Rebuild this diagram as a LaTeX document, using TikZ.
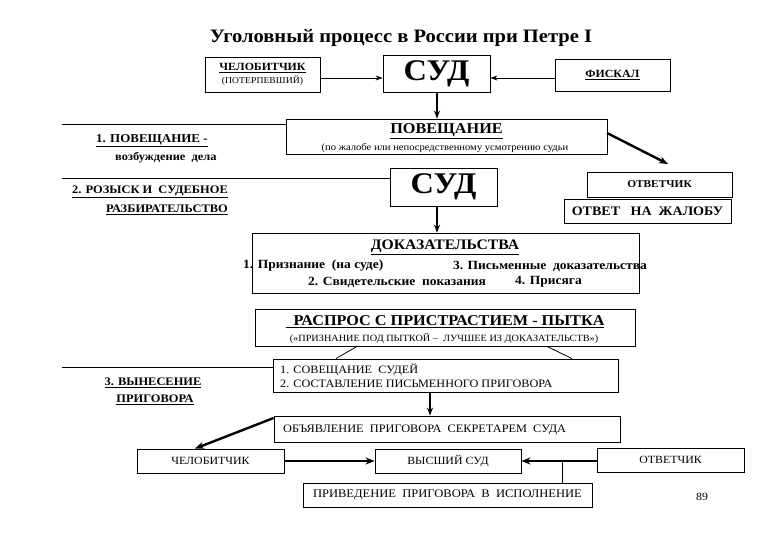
\documentclass[tikz,border=0pt]{standalone}
\usepackage{fontspec}
\setmainfont[FakeStretch=1.08]{Liberation Serif}
\usetikzlibrary{arrows.meta}
\newcommand\fs[1]{\fontsize{#1}{#1}\selectfont}
\begin{document}
\begin{tikzpicture}[x=1pt,y=-1pt,
  box/.style={draw, line width=0.8pt, inner sep=0pt, align=center},
  lbl/.style={inner sep=0pt, align=center},
  thinarr/.style={-{Stealth[length=7pt,width=5pt]}, line width=0.8pt},
  midarr/.style={-{Stealth[length=8pt,width=6pt]}, line width=1.6pt},
  thickarr/.style={-{Stealth[length=9pt,width=7pt]}, line width=2.4pt},
  rule/.style={line width=0.8pt}
]
\useasboundingbox (0,0) rectangle (780,540);
\fill[white] (0,0) rectangle (780,540);

% title
\node[lbl] (title) at (401,38) {\fs{19}\bfseries Уголовный процесс в России при Петре I};

% top row
\node[box, minimum width=115pt, minimum height=35pt] (chel1) at (262.5,74.5)
  {\fs{11}\bfseries\underline{ЧЕЛОБИТЧИК}\\[1pt]\fs{9}\mdseries(ПОТЕРПЕВШИЙ)};
\node[box, minimum width=107pt, minimum height=37pt] (sud1) at (436.5,73.5)
  {\fs{30}\bfseries СУД};
\node[box, minimum width=115pt, minimum height=32pt] (fisk) at (612.5,75)
  {\fs{11}\bfseries\underline{ФИСКАЛ}};
\draw[thinarr] (chel1.east |- 0,78) -- (sud1.west |- 0,78);
\draw[thinarr] (fisk.west |- 0,78) -- (sud1.east |- 0,78);

% ПОВЕЩАНИЕ
\node[box, minimum width=321pt, minimum height=35pt] (pov) at (446.5,136.5) {};
\node[lbl] (povt) at (446.5,131) {\fs{15}\bfseries\underline{ПОВЕЩАНИЕ}};
\node[lbl] (povs) at (445,148) {\fs{9.8}(по жалобе или непосредственному усмотрению судьи};
\draw[midarr] (sud1.south -| 437,0) -- (pov.north -| 437,0);

\coordinate (l1) at (62,124);
\draw[rule] (l1) -- (pov.west |- l1);
\node[lbl, anchor=west] (st1a) at (96,141) {\fs{12}\bfseries\underline{1. ПОВЕЩАНИЕ -}};
\node[lbl, anchor=west] (st1b) at (115,158) {\fs{11.5}\bfseries возбуждение\ \ дела};

% СУД 2
\node[box, minimum width=107pt, minimum height=38pt] (sud2) at (443.5,187) {\fs{30}\bfseries СУД};
\coordinate (l2) at (62,178);
\draw[rule] (l2) -- (sud2.west |- l2);
\node[lbl, anchor=east] (st2a) at (228,192) {\fs{11.5}\bfseries\underline{2. РОЗЫСК И\ \ СУДЕБНОЕ}};
\node[lbl, anchor=east] (st2b) at (228,210) {\fs{11.5}\bfseries\underline{РАЗБИРАТЕЛЬСТВО}};

% ОТВЕТЧИК
\node[box, minimum width=145pt, minimum height=25pt] (otv1) at (659.5,184.5) {\fs{10.5}\bfseries ОТВЕТЧИК};
\node[box, minimum width=167pt, minimum height=24pt] (otvzh) at (647.5,211) {\fs{13}\bfseries ОТВЕТ\ \ \ НА\ \ ЖАЛОБУ};
\coordinate (pa) at (607,133);
\coordinate (pb) at (668,164);
\draw[thickarr] (pa) -- (pb);

% ДОКАЗАТЕЛЬСТВА
\node[box, minimum width=387pt, minimum height=60pt] (dok) at (445.5,263) {};
\draw[midarr] (sud2.south -| 437,0) -- (dok.north -| 437,0);
\node[lbl] (dokt) at (445,247) {\fs{14.5}\bfseries\underline{ДОКАЗАТЕЛЬСТВА}};
\node[lbl, anchor=west] (dk1) at (243,266) {\fs{12.5}\bfseries 1. Признание\ \ (на суде)};
\node[lbl, anchor=east] (dk3) at (647,266) {\fs{12.5}\bfseries 3. Письменные\ \ доказательства};
\node[lbl, anchor=west] (dk2) at (308,282) {\fs{12.5}\bfseries 2. Свидетельские\ \ показания};
\node[lbl, anchor=east] (dk4) at (582,282) {\fs{12.5}\bfseries 4. Присяга};

% РАСПРОС
\node[box, minimum width=380pt, minimum height=37pt] (ras) at (445,327.5) {};
\node[lbl] (rast) at (445,322) {\fs{15}\bfseries\underline{\ \ РАСПРОС С ПРИСТРАСТИЕМ - ПЫТКА}};
\node[lbl] (rass) at (444,338) {\fs{9.5}(«ПРИЗНАНИЕ ПОД ПЫТКОЙ –\ \ ЛУЧШЕЕ ИЗ ДОКАЗАТЕЛЬСТВ»)};

% СОВЕЩАНИЕ
\node[box, minimum width=345pt, minimum height=33pt] (sov) at (445.5,375.5) {};
\node[lbl, anchor=west, align=left] (sovt) at (280,376)
  {\fs{11.3}1. СОВЕЩАНИЕ\ \ СУДЕЙ\\[2pt]\fs{11.3}2. СОСТАВЛЕНИЕ ПИСЬМЕННОГО ПРИГОВОРА};
\draw[rule] (ras.south -| 357,0) -- (sov.north -| 336,0);
\draw[rule] (ras.south -| 547,0) -- (sov.north -| 572,0);
\coordinate (l3) at (62,367);
\draw[rule] (l3) -- (sov.west |- l3);
\node[lbl] (st3a) at (153,383) {\fs{11.5}\bfseries\underline{3. ВЫНЕСЕНИЕ}};
\node[lbl] (st3b) at (155,400) {\fs{11.5}\bfseries\underline{ПРИГОВОРА}};

% ОБЪЯВЛЕНИЕ
\node[box, minimum width=346pt, minimum height=26pt] (obj) at (447,429) {};
\node[lbl, anchor=west] (objt) at (283,430) {\fs{11.4}ОБЪЯВЛЕНИЕ\ \ ПРИГОВОРА\ \ СЕКРЕТАРЕМ\ \ СУДА};
\draw[midarr] (sov.south -| 430,0) -- (obj.north -| 430,0);

% bottom row
\node[box, minimum width=147pt, minimum height=24pt] (chel2) at (210.5,461) {\fs{11}ЧЕЛОБИТЧИК};
\node[box, minimum width=146pt, minimum height=24pt] (vys) at (448,461) {\fs{11}ВЫСШИЙ СУД};
\node[box, minimum width=147pt, minimum height=24pt] (otv2) at (670.5,460) {\fs{11}ОТВЕТЧИК};
\draw[thickarr] (obj.west |- 0,418) -- (chel2.north -| 195,0);
\draw[thickarr] (chel2.east |- 0,461) -- (vys.west |- 0,461);
\draw[thickarr] (otv2.west |- 0,461) -- (vys.east |- 0,461);

\node[box, minimum width=289pt, minimum height=24pt] (priv) at (447.5,495) {\fs{11.6}ПРИВЕДЕНИЕ\ \ ПРИГОВОРА\ \ В\ \ ИСПОЛНЕНИЕ};
\draw[rule] (562,461) -- (priv.north -| 562,0);

\node[lbl] (pg) at (702,497) {\fs{11}89};
\end{tikzpicture}
\end{document}
